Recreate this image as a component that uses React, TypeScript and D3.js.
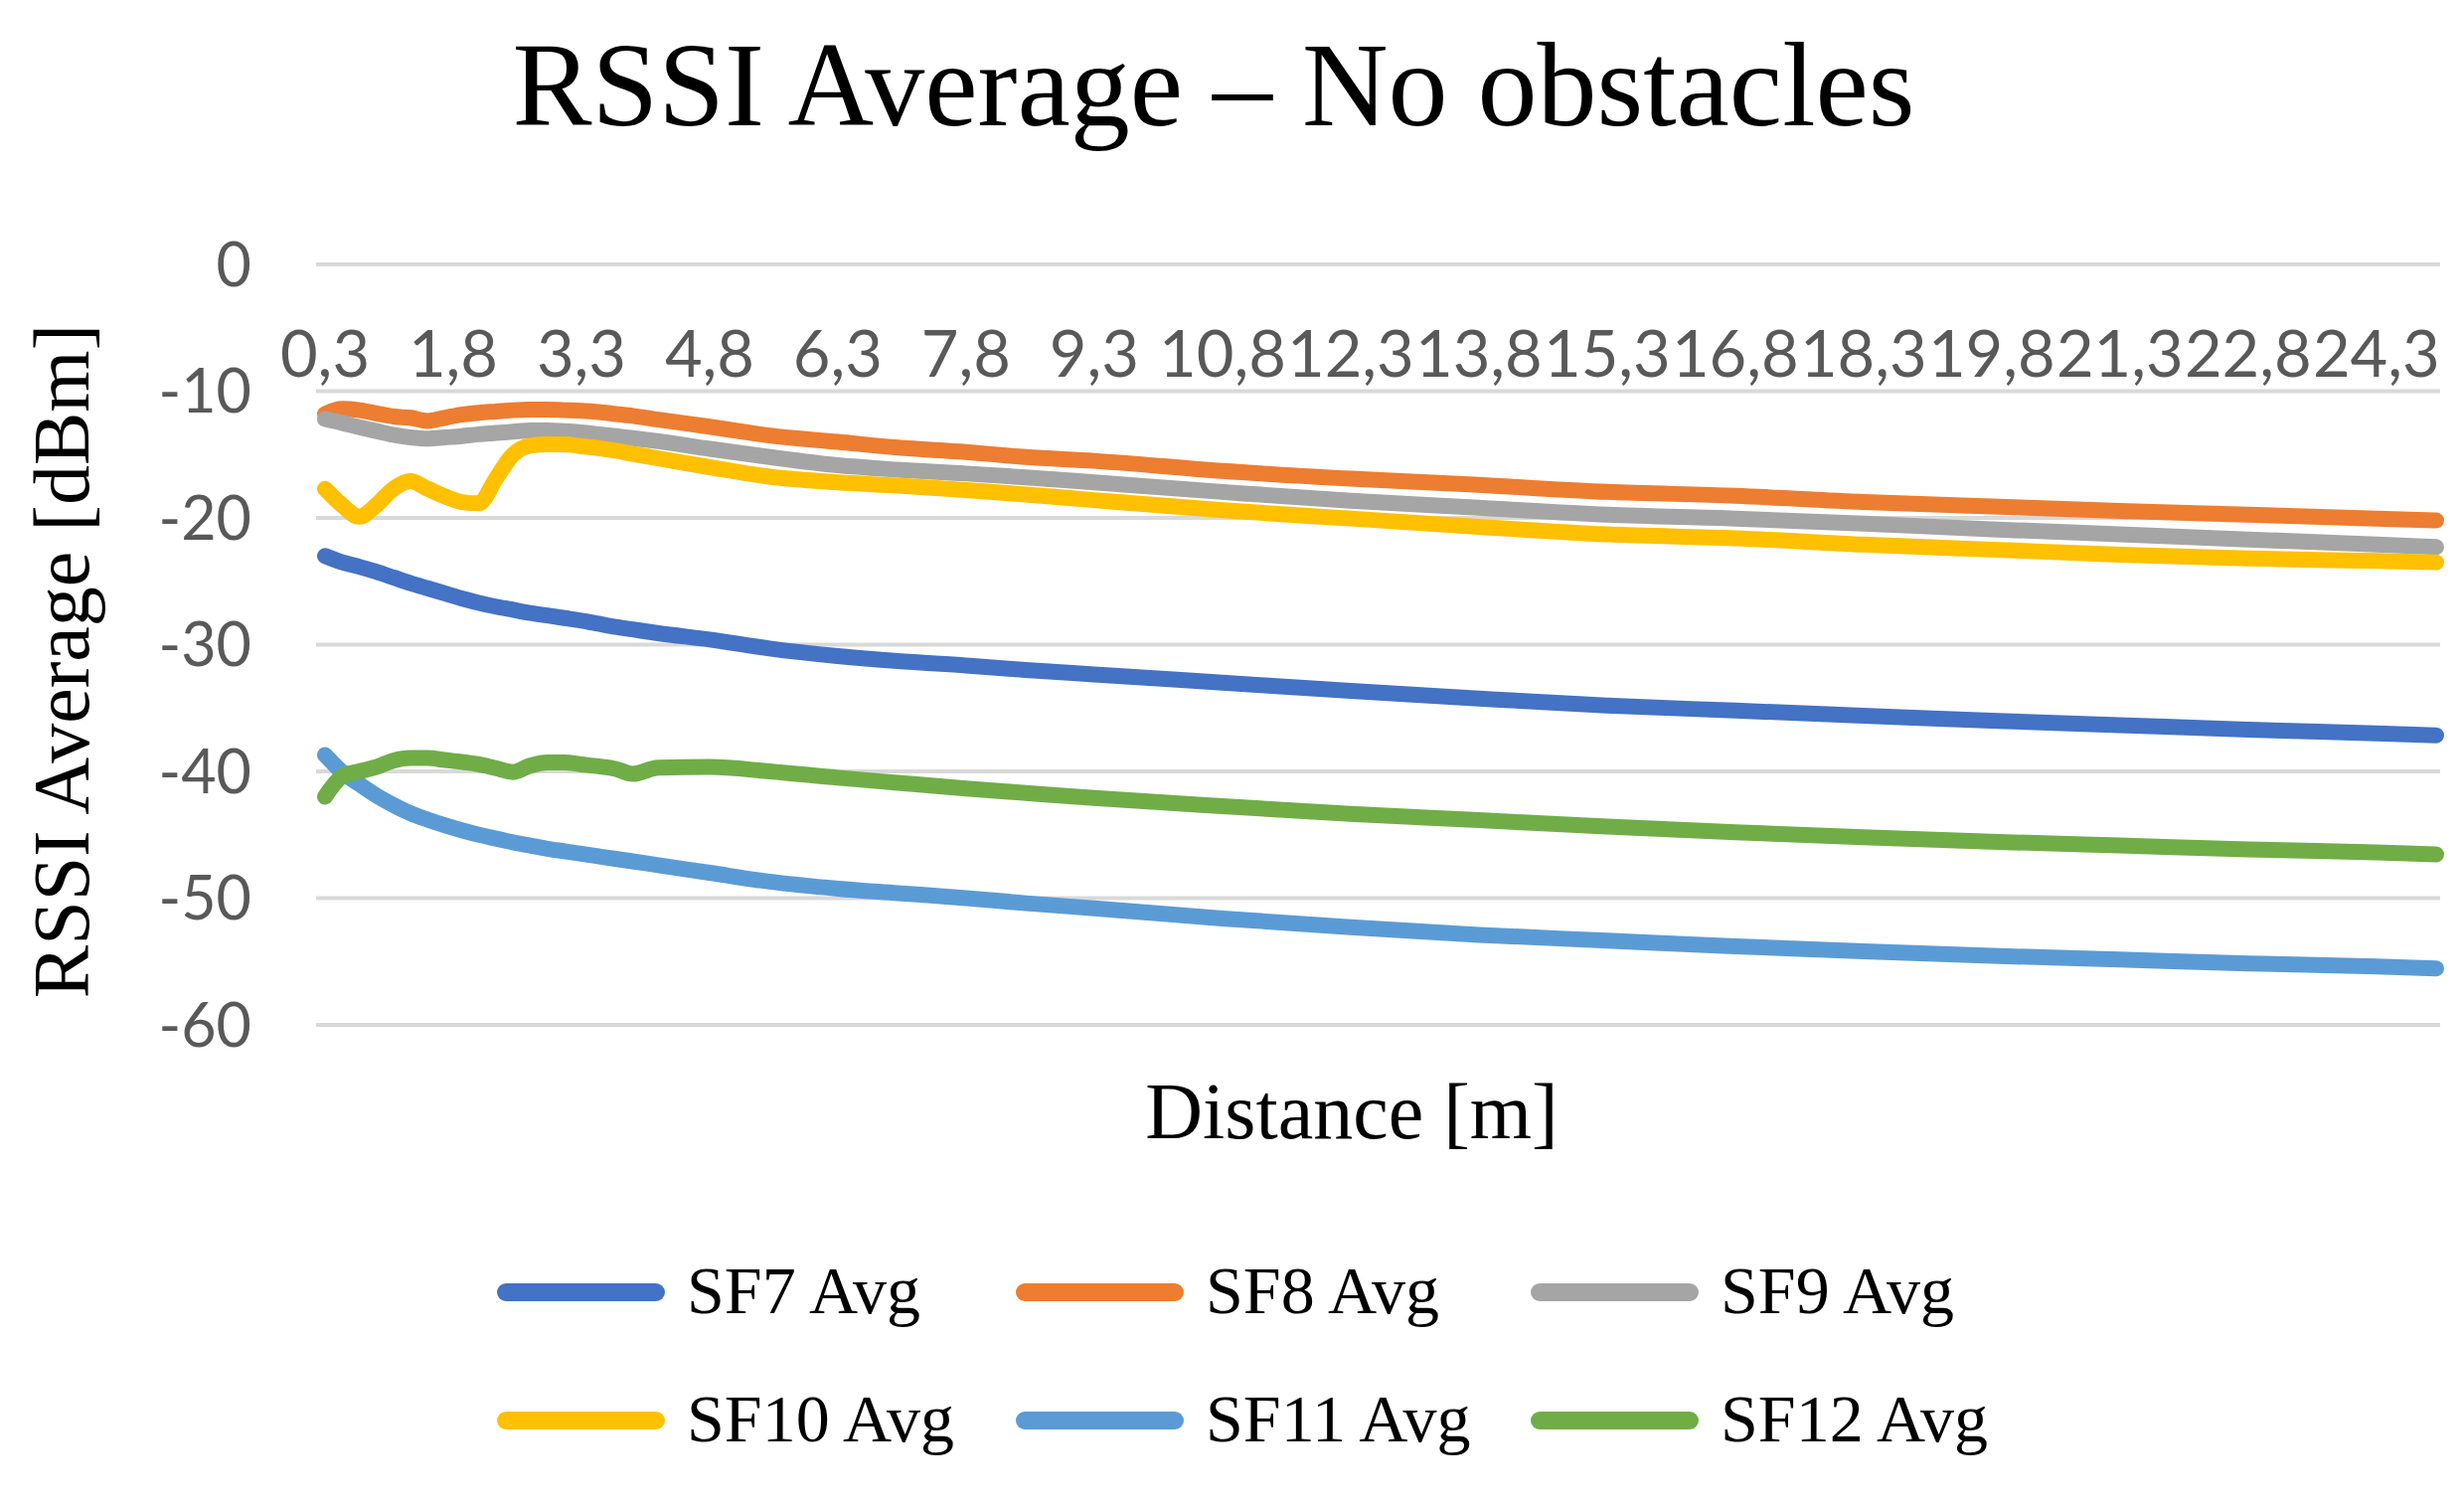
import React, { useEffect, useRef } from 'react';
import * as d3 from 'd3';

const distances = [
  0.3, 0.5, 0.7, 0.9, 1.1, 1.3, 1.5, 1.7, 1.9, 2.1, 2.3, 2.5, 2.7, 2.9, 3.1, 3.3, 3.5, 3.7, 3.9,
  4.2, 4.8, 5.5, 6.3, 7.0, 7.8, 8.5, 9.3, 10.8, 12.3, 13.8, 15.3, 16.8, 18.3, 19.8, 21.3, 22.8,
  24.3, 25.0,
];

const sf7 = [
  -23.0, -23.5, -23.85, -24.25, -24.7, -25.15, -25.55, -25.95, -26.35, -26.7, -27.0, -27.25, -27.5,
  -27.7, -27.9, -28.1, -28.35, -28.6, -28.8, -29.1, -29.6, -30.3, -30.9, -31.3, -31.65, -32.0,
  -32.35, -33.0, -33.65, -34.25, -34.8, -35.2, -35.6, -36.0, -36.35, -36.7, -37.0, -37.15,
];
const sf8 = [
  -11.8, -11.4, -11.5, -11.75, -12.0, -12.1, -12.35, -12.1, -11.85, -11.7, -11.6, -11.5, -11.45,
  -11.45, -11.5, -11.55, -11.65, -11.8, -11.95, -12.25, -12.8, -13.5, -14.0, -14.45, -14.8, -15.2,
  -15.5, -16.3, -16.9, -17.4, -17.95, -18.25, -18.75, -19.1, -19.45, -19.75, -20.05, -20.2,
];
const sf9 = [
  -12.2, -12.5, -12.85, -13.15, -13.45, -13.65, -13.75, -13.65, -13.55, -13.4, -13.3, -13.2, -13.1,
  -13.1, -13.15, -13.25, -13.4, -13.55, -13.7, -13.95, -14.55, -15.2, -15.85, -16.2, -16.5, -16.8,
  -17.2, -17.95, -18.65, -19.2, -19.75, -20.05, -20.45, -20.9, -21.3, -21.7, -22.1, -22.3,
];
const sf10 = [
  -17.7, -19.0, -19.9, -19.0, -17.7, -17.1, -17.7, -18.3, -18.75, -18.85, -16.9, -15.0, -14.3,
  -14.2, -14.2, -14.35, -14.5, -14.7, -14.95, -15.3, -16.0, -16.75, -17.2, -17.45, -17.8, -18.15,
  -18.6, -19.4, -20.05, -20.7, -21.3, -21.6, -22.1, -22.5, -22.9, -23.2, -23.4, -23.5,
];
const sf11 = [
  -38.7, -40.05, -41.0, -41.9, -42.65, -43.3, -43.8, -44.25, -44.65, -45.0, -45.3, -45.6, -45.85,
  -46.1, -46.3, -46.5, -46.7, -46.9, -47.1, -47.4, -48.0, -48.7, -49.25, -49.6, -50.0, -50.4,
  -50.8, -51.6, -52.3, -52.9, -53.35, -53.8, -54.2, -54.55, -54.85, -55.15, -55.4, -55.55,
];
const sf12 = [
  -42.0, -40.4, -40.0, -39.65, -39.15, -38.95, -38.95, -39.1, -39.25, -39.45, -39.75, -40.05,
  -39.55, -39.3, -39.3, -39.45, -39.6, -39.8, -40.2, -39.7, -39.65, -40.0, -40.5, -40.9, -41.35,
  -41.7, -42.1, -42.75, -43.35, -43.85, -44.35, -44.8, -45.2, -45.55, -45.85, -46.15, -46.4, -46.55,
];

const seriesNames = ['SF7 Avg', 'SF8 Avg', 'SF9 Avg', 'SF10 Avg', 'SF11 Avg', 'SF12 Avg'];
const seriesValues = [sf7, sf8, sf9, sf10, sf11, sf12];
const seriesColors = ['#4472C4', '#ED7D31', '#A5A5A5', '#FFC000', '#5B9BD5', '#70AD47'];

const xTickLabels = [
  '0,3', '1,8', '3,3', '4,8', '6,3', '7,8', '9,3', '10,8', '12,3', '13,8', '15,3', '16,8', '18,3',
  '19,8', '21,3', '22,8', '24,3',
];
const yTicks = [0, -10, -20, -30, -40, -50, -60];

const W = 2479;
const H = 1515;
const serif = "'Liberation Serif', 'Times New Roman', serif";
const sans = "Lato, 'Open Sans', sans-serif";

const App = () => {
  const ref = useRef<SVGSVGElement | null>(null);

  useEffect(() => {
    if (!ref.current) return;
    const svg = d3.select(ref.current);
    svg.selectAll('*').remove();

    const plotLeft = 318;
    const plotRight = 2455;

    const x = d3.scaleLinear().domain([0.3, 25.0]).range([327, 2451]);
    const y = d3.scaleLinear().domain([-60, 0]).range([1031, 266]);

    svg.append('rect').attr('width', W).attr('height', H).attr('fill', '#fff');

    // gridlines
    svg
      .append('g')
      .selectAll('line')
      .data(yTicks)
      .enter()
      .append('line')
      .attr('x1', plotLeft)
      .attr('x2', plotRight)
      .attr('y1', (d) => y(d))
      .attr('y2', (d) => y(d))
      .attr('stroke', '#d9d9d9')
      .attr('stroke-width', 4);

    // y tick labels
    svg
      .append('g')
      .selectAll('text')
      .data(yTicks)
      .enter()
      .append('text')
      .attr('x', 253)
      .attr('y', (d) => y(d))
      .attr('dy', '0.36em')
      .attr('text-anchor', 'end')
      .attr('font-family', sans)
      .attr('font-size', 61)
      .attr('fill', '#595959')
      .text((d) => d);

    // category labels sit just under the 0 line
    svg
      .append('g')
      .selectAll('text')
      .data(xTickLabels)
      .enter()
      .append('text')
      .attr('x', (d) => x(parseFloat(d.replace(',', '.'))))
      .attr('y', 379)
      .attr('text-anchor', 'middle')
      .attr('font-family', sans)
      .attr('font-size', 65)
      .attr('fill', '#595959')
      .text((d) => d);

    const line = d3
      .line<number>()
      .x((_, i) => x(distances[i]))
      .y((d) => y(d))
      .curve(d3.curveMonotoneX);

    svg
      .append('g')
      .selectAll('path')
      .data(seriesValues)
      .enter()
      .append('path')
      .attr('d', (d) => line(d))
      .attr('fill', 'none')
      .attr('stroke', (_, i) => seriesColors[i])
      .attr('stroke-width', 16)
      .attr('stroke-linejoin', 'round')
      .attr('stroke-linecap', 'round');

    // titles
    svg
      .append('text')
      .attr('x', 1221)
      .attr('y', 126)
      .attr('text-anchor', 'middle')
      .attr('font-family', serif)
      .attr('font-size', 120)
      .attr('fill', '#000')
      .text('RSSI Average – No obstacles');

    svg
      .append('text')
      .attr('transform', 'translate(89,665) rotate(-90)')
      .attr('text-anchor', 'middle')
      .attr('font-family', serif)
      .attr('font-size', 80)
      .attr('fill', '#000')
      .text('RSSI Average [dBm]');

    svg
      .append('text')
      .attr('x', 1360)
      .attr('y', 1145)
      .attr('text-anchor', 'middle')
      .attr('font-family', serif)
      .attr('font-size', 80)
      .attr('fill', '#000')
      .text('Distance [m]');

    // legend, 3 per row
    const colX = [500, 1022, 1540];
    const rowY = [1300, 1429];
    const legend = svg
      .append('g')
      .selectAll('g')
      .data(seriesNames)
      .enter()
      .append('g')
      .attr('transform', (_, i) => `translate(${colX[i % 3]},${rowY[Math.floor(i / 3)]})`);

    legend
      .append('line')
      .attr('x1', 9)
      .attr('x2', 160)
      .attr('stroke', (_, i) => seriesColors[i])
      .attr('stroke-width', 18)
      .attr('stroke-linecap', 'round');

    legend
      .append('text')
      .attr('x', 191)
      .attr('y', 21)
      .attr('font-family', serif)
      .attr('font-size', 68)
      .attr('fill', '#000')
      .text((d) => d);
  }, []);

  return (
    <svg
      ref={ref}
      width={W}
      height={H}
      style={{ position: 'absolute', left: 0, top: 0, display: 'block' }}
    />
  );
};

export default App;
